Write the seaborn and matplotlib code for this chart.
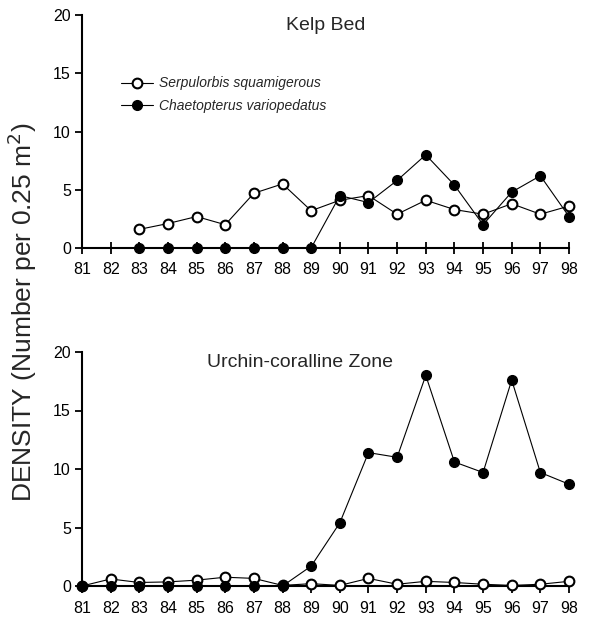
import matplotlib
matplotlib.use("Agg")
import matplotlib.pyplot as plt
import seaborn as sns
import pandas as pd
import numpy as np

years = list(range(81, 99))

# Kelp Bed (data start 1983)
kelp_years = list(range(83, 99))
kelp_serpulorbis = [1.6, 2.1, 2.7, 2.0, 4.7, 5.5, 3.2, 4.1, 4.5, 2.9, 4.1, 3.3, 2.9, 3.8, 2.9, 3.6]
kelp_chaetopterus = [0, 0, 0, 0, 0, 0, 0, 4.5, 3.9, 5.8, 8.0, 5.4, 2.0, 4.8, 6.2, 2.7]

# Urchin-coralline Zone (1981-1998)
urch_serpulorbis = [0.0, 0.6, 0.3, 0.35, 0.5, 0.75, 0.65, 0.05, 0.2, 0.05, 0.65, 0.15, 0.4, 0.3, 0.15, 0.05, 0.15, 0.4]
urch_chaetopterus = [0, 0, 0, 0, 0, 0, 0, 0, 1.7, 5.4, 11.4, 11.0, 18.0, 10.6, 9.7, 17.6, 9.7, 8.7]

species = ["Serpulorbis squamigerous", "Chaetopterus variopedatus"]
panel_titles = ["Kelp Bed", "Urchin-coralline Zone"]
ylabel = "DENSITY (Number per 0.25 m$^2$)"
yticks = [0, 5, 10, 15, 20]

sns.set_style("white")
plt.rcParams["font.family"] = ["Liberation Sans", "DejaVu Sans"]

fig = plt.figure(figsize=(5.95, 6.25), dpi=100)
ax1 = fig.add_axes([82/595, 1-248/625, (569-82)/595, (248-15)/625])
ax2 = fig.add_axes([82/595, 1-586/625, (569-82)/595, (586-352)/625])

def draw(ax, xs, serp, chaet, title, legend, xtickdir):
    df_s = pd.DataFrame({"year": xs, "density": serp})
    df_c = pd.DataFrame({"year": xs, "density": chaet})
    sns.lineplot(data=df_s, x="year", y="density", ax=ax, color="black", lw=0.8,
                 marker="o", markersize=7, markerfacecolor="white",
                 markeredgecolor="black", markeredgewidth=1.5, label=species[0], zorder=3)
    sns.lineplot(data=df_c, x="year", y="density", ax=ax, color="black", lw=0.8,
                 marker="o", markersize=7, markerfacecolor="black",
                 markeredgecolor="black", markeredgewidth=1.0, label=species[1], zorder=4)
    for ln in ax.lines:
        ln.set_clip_on(False)
    ax.set_xlim(81, 98)
    ax.set_ylim(0, 20)
    ax.set_xticks(years)
    ax.set_xticklabels([str(y) for y in years])
    ax.set_yticks(yticks)
    ax.set_xlabel("")
    ax.set_ylabel("")
    for s in ["top", "right"]:
        ax.spines[s].set_visible(False)
    for s in ["left", "bottom"]:
        ax.spines[s].set_color("black")
        ax.spines[s].set_linewidth(1.5)
    ax.tick_params(axis="x", bottom=True, direction=xtickdir, length=8 if xtickdir == "inout" else 5,
                   width=1.3, labelsize=11.5, pad=6, colors="black")
    ax.tick_params(axis="y", left=True, direction="out", length=5, width=1.3, labelsize=11.5,
                   pad=3, colors="black")
    ax.text(0.5 if title == "Kelp Bed" else 0.447, 0.99, title, transform=ax.transAxes,
            ha="center", va="top", fontsize=14)
    if legend:
        ax.legend(loc="upper left", bbox_to_anchor=(0.055, 0.79), frameon=False,
                  prop={"style": "italic", "size": 10}, handlelength=2.3,
                  handletextpad=0.4, labelspacing=0.6)
    else:
        l = ax.get_legend()
        if l is not None:
            l.remove()

draw(ax1, kelp_years, kelp_serpulorbis, kelp_chaetopterus, panel_titles[0], True, "inout")
draw(ax2, years, urch_serpulorbis, urch_chaetopterus, panel_titles[1], False, "out")

fig.text(0.037, 0.5, ylabel, rotation=90, ha="center", va="center", fontsize=19)

fig.savefig("out.png", dpi=100)
